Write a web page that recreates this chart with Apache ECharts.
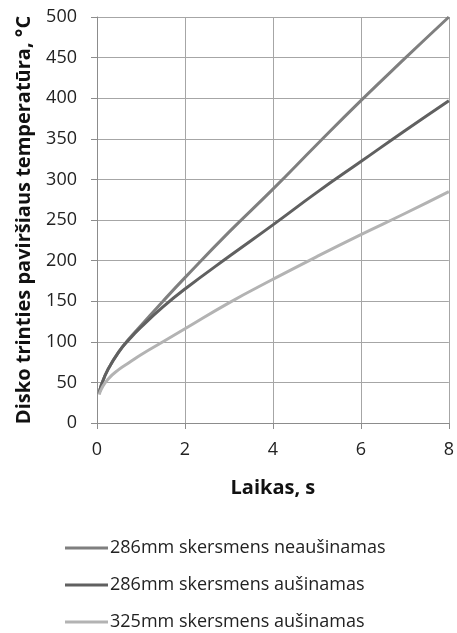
<!DOCTYPE html>
<html>
<head>
<meta charset="utf-8">
<script src="https://cdn.jsdelivr.net/npm/echarts@6/dist/echarts.min.js"></script>
<style>
  html, body { margin: 0; padding: 0; background: #fff; }
  #chart { width: 457px; height: 633px; }
</style>
</head>
<body>
<div id="chart"></div>
<script>
const times = [0.05, 0.1, 0.25, 0.5, 0.75, 1, 1.5, 2, 3, 4, 5, 6, 7, 8]
const hot286 = [36, 47, 66, 88, 105, 120, 150, 179, 235, 288, 343, 397, 449, 500]
const cooled286 = [36, 47, 66, 88, 104, 118, 143, 165, 205, 244, 284, 322, 360, 397]
const cooled325 = [35, 42, 54, 66, 75, 84, 100, 116, 148, 177, 205, 232, 258, 285]
const names = ['286mm skersmens neaušinamas', '286mm skersmens aušinamas', '325mm skersmens aušinamas']
const COLORS = ['#7f7f7f', '#606060', '#b3b3b3']
const FONT = '"Open Sans", sans-serif'

const chart = echarts.init(document.getElementById('chart'))

const series = [hot286, cooled286, cooled325].map((vals, i) => ({
  name: names[i],
  type: 'line',
  smooth: true,
  showSymbol: false,
  color: COLORS[i],
  lineStyle: { width: 3, color: COLORS[i] },
  data: times.map((t, j) => [t, vals[j]]),
}))

chart.setOption({
  animation: false,
  grid: { left: 97, right: 8, top: 17, bottom: 210, containLabel: false },
  xAxis: {
    type: 'value',
    min: 0,
    max: 8,
    interval: 2,
    name: 'Laikas, s',
    nameLocation: 'middle',
    nameGap: 55,
    nameTextStyle: { fontFamily: FONT, fontWeight: 'bold', fontSize: 20, color: '#111' },
    axisLine: { show: true, lineStyle: { color: '#8c8c8c', width: 1 } },
    axisTick: { show: true, length: 6, lineStyle: { color: '#8c8c8c' } },
    axisLabel: { fontFamily: FONT, fontSize: 18, color: '#222', margin: 18 },
    splitLine: { show: true, lineStyle: { color: '#a6a6a6', width: 1 } },
  },
  yAxis: {
    type: 'value',
    min: 0,
    max: 500,
    interval: 50,
    name: 'Disko trinties paviršiaus temperatūra, °C',
    nameLocation: 'middle',
    nameGap: 63,
    nameTextStyle: { fontFamily: FONT, fontWeight: 'bold', fontSize: 20, color: '#111' },
    axisLine: { show: true, lineStyle: { color: '#8c8c8c', width: 1 } },
    axisTick: { show: true, length: 6, lineStyle: { color: '#8c8c8c' } },
    axisLabel: { fontFamily: FONT, fontSize: 18, color: '#222', margin: 20 },
    splitLine: { show: true, lineStyle: { color: '#a6a6a6', width: 1 } },
  },
  legend: {
    orient: 'vertical',
    left: 65,
    top: 539,
    padding: 0,
    itemGap: 19,
    itemWidth: 43,
    itemHeight: 3,
    icon: 'rect',
    textStyle: { fontFamily: FONT, fontSize: 18, color: '#222', padding: [0, 0, 0, -3] },
    data: names,
  },
  series: series,
})
</script>
</body>
</html>
